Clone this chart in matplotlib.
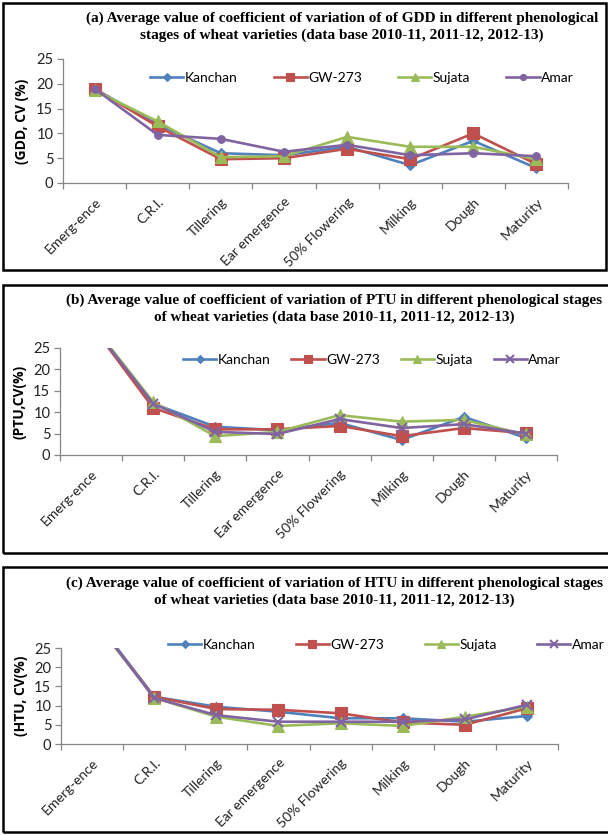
import matplotlib
matplotlib.use("Agg")
import matplotlib.pyplot as plt
from matplotlib.patches import Rectangle

stages = ["Emerg-ence", "C.R.I.", "Tillering", "Ear emergence", "50% Flowering",
          "Milking", "Dough", "Maturity"]
varieties = ["Kanchan", "GW-273", "Sujata", "Amar"]

# (a) GDD
gdd_kanchan = [19.0, 11.8, 6.0, 5.6, 7.3, 3.6, 8.5, 3.0]
gdd_gw273 = [19.0, 11.4, 4.8, 5.0, 6.9, 4.8, 10.0, 3.8]
gdd_sujata = [18.7, 12.4, 5.2, 5.4, 9.3, 7.3, 7.3, 4.8]
gdd_amar = [19.0, 9.7, 8.9, 6.3, 7.7, 5.6, 6.0, 5.4]

# (b) PTU
ptu_kanchan = [30.5, 12.0, 6.6, 5.8, 7.5, 3.5, 8.9, 4.0]
ptu_gw273 = [30.5, 11.0, 6.0, 6.0, 6.8, 4.4, 6.3, 5.1]
ptu_sujata = [30.8, 12.4, 4.4, 5.4, 9.3, 7.8, 8.2, 4.8]
ptu_amar = [30.6, 12.0, 5.4, 4.9, 8.4, 6.3, 7.2, 5.0]

# (c) HTU
htu_kanchan = [33.5, 12.3, 9.7, 8.4, 6.7, 6.7, 5.8, 7.3]
htu_gw273 = [33.0, 12.3, 9.1, 8.9, 8.0, 5.6, 5.0, 9.3]
htu_sujata = [33.0, 12.0, 7.1, 4.7, 5.4, 4.7, 7.1, 9.7]
htu_amar = [33.2, 12.0, 7.5, 5.8, 5.8, 5.8, 6.4, 10.2]

titles = [
    "(a) Average value of coefficient of variation of of GDD in different phenological\nstages of wheat varieties (data base 2010-11, 2011-12, 2012-13)",
    "(b) Average value of coefficient of variation of PTU in different phenological stages\nof wheat varieties (data base 2010-11, 2011-12, 2012-13)",
    "(c) Average value of coefficient of variation of HTU in different phenological stages\nof wheat varieties (data base 2010-11, 2011-12, 2012-13)",
]
ylabels = ["(GDD, CV (%)", "(PTU,CV(%)", "(HTU, CV(%)"]
yticks = [0, 5, 10, 15, 20, 25]

colors = ["#4F81BD", "#C0504D", "#9BBB59", "#8064A2"]

W, H = 608, 835
fig = plt.figure(figsize=(W / 100, H / 100), dpi=100)
fig.patch.set_facecolor("white")

def fx(x):
    return x / W

def fy(y):
    return 1 - y / H

panels = [
    dict(data=[gdd_kanchan, gdd_gw273, gdd_sujata, gdd_amar], amar_marker="o",
         box=(3, 3, 606, 270), ax=(63, 59, 568, 183), title_y=(17, 36), title_x=342,
         legend_y=78, leg_x=150, ylab_x=22, colsp=2.6),
    dict(data=[ptu_kanchan, ptu_gw273, ptu_sujata, ptu_amar], amar_marker="x",
         box=(3, 285, 640, 553), ax=(60, 348, 557, 455), title_y=(299, 318), title_x=334,
         legend_y=360, leg_x=183, ylab_x=20, colsp=1.5),
    dict(data=[htu_kanchan, htu_gw273, htu_sujata, htu_amar], amar_marker="x",
         box=(3, 567, 640, 832), ax=(61, 648, 558, 744), title_y=(582, 601), title_x=334,
         legend_y=645, leg_x=168, ylab_x=21, colsp=2.9),
]

markers_base = ["D", "s", "^"]
msizes = {"D": 5, "s": 8, "^": 8, "o": 5.5, "x": 7}

for p, title, ylab in zip(panels, titles, ylabels):
    bx0, by0, bx1, by1 = p["box"]
    fig.patches.append(Rectangle((fx(bx0), fy(by1)), fx(bx1 - bx0), (by1 - by0) / H,
                                 transform=fig.transFigure, fill=False,
                                 edgecolor="black", linewidth=1.8, zorder=0))
    x0, y0, x1, y1 = p["ax"]
    ax = fig.add_axes([fx(x0), fy(y1), fx(x1 - x0), (y1 - y0) / H])
    ax.set_facecolor("none")
    mk = markers_base + [p["amar_marker"]]
    handles = []
    for i, (vals, name) in enumerate(zip(p["data"], varieties)):
        m = mk[i]
        line, = ax.plot(range(len(stages)), vals, color=colors[i], linewidth=1.9,
                        marker=m, markersize=msizes[m],
                        markeredgewidth=1.5 if m == "x" else 0.8,
                        markeredgecolor=colors[i], markerfacecolor=colors[i],
                        label=name, zorder=3 + i, clip_on=True)
        handles.append(line)
    ax.set_xlim(-0.5, len(stages) - 0.5)
    ax.set_ylim(0, 25)
    ax.set_yticks(yticks)
    ax.set_yticklabels([str(t) for t in yticks], fontsize=10.5, family="Lato", color="#222222")
    ax.set_xticks(range(len(stages)))
    ax.set_xticklabels(stages, rotation=45, ha="right", rotation_mode="anchor",
                       fontsize=10, family="Lato", color="#222222")
    ax.set_xticks([i - 0.5 for i in range(len(stages) + 1)], minor=True)
    ax.tick_params(axis="x", which="major", length=0, pad=9)
    ax.tick_params(axis="x", which="minor", length=4, color="#868686", width=0.9,
                   direction="out")
    ax.tick_params(axis="y", length=4, color="#868686", width=0.9, direction="out", pad=3)
    for s in ["top", "right"]:
        ax.spines[s].set_visible(False)
    for s in ["left", "bottom"]:
        ax.spines[s].set_color("#868686")
        ax.spines[s].set_linewidth(0.9)
    fig.text(fx(p["ylab_x"]), fy((y0 + y1) / 2), ylab, rotation=90, ha="center",
             va="center", fontsize=10, fontweight="bold", family="Open Sans")
    fig.text(fx(p["title_x"]), fy((p["title_y"][0] + p["title_y"][1]) / 2), title,
             ha="center", va="center", fontsize=11, fontweight="bold",
             family="Liberation Serif", linespacing=1.3)
    fig.legend(handles=handles, loc="center left",
               bbox_to_anchor=(fx(p["leg_x"]), fy(p["legend_y"])), ncol=4, frameon=False,
               prop={"family": "Lato", "size": 10}, handlelength=2.4, handletextpad=0.1,
               columnspacing=p["colsp"], borderaxespad=0, borderpad=0, markerscale=0.8)

fig.savefig("out.png", dpi=100, facecolor="white")
